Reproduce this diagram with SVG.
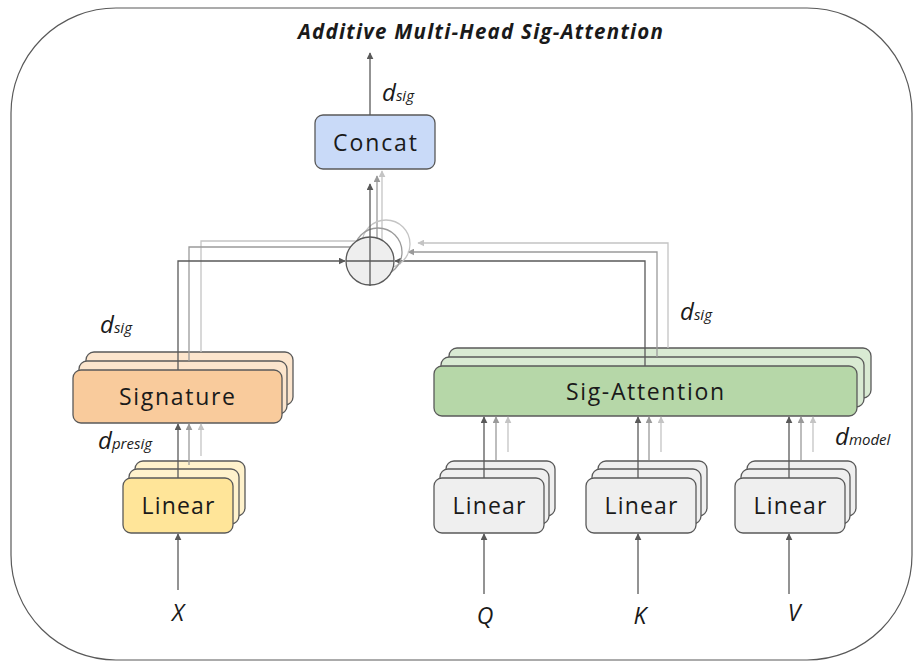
<svg xmlns="http://www.w3.org/2000/svg" width="914" height="662" viewBox="0 0 914 662">
<defs>
<style>
.t{font-family:"Open Sans",Lato,"Liberation Sans",sans-serif;fill:#1a1a1a}
.box{stroke:#595959;stroke-width:1.3}
.lab{font-size:23px;text-anchor:middle}
.it{font-family:"Open Sans",Lato,"Liberation Sans",sans-serif;font-style:italic;fill:#1a1a1a}
.dk{stroke:#595959;stroke-width:1.3;fill:none}
.md{stroke:#9a9a9a;stroke-width:1.3;fill:none}
.lt{stroke:#c4c4c4;stroke-width:1.3;fill:none}
</style>
<marker id="ad" viewBox="0 0 10 10" refX="9" refY="5" markerWidth="7" markerHeight="7" orient="auto" markerUnits="userSpaceOnUse"><path d="M0,0L10,5L0,10z" fill="#595959"/></marker>
<marker id="am" viewBox="0 0 10 10" refX="9" refY="5" markerWidth="7" markerHeight="7" orient="auto" markerUnits="userSpaceOnUse"><path d="M0,0L10,5L0,10z" fill="#9a9a9a"/></marker>
<marker id="al" viewBox="0 0 10 10" refX="9" refY="5" markerWidth="7" markerHeight="7" orient="auto" markerUnits="userSpaceOnUse"><path d="M0,0L10,5L0,10z" fill="#c4c4c4"/></marker>
</defs>
<rect x="0" y="0" width="914" height="662" fill="#ffffff"/>
<rect id="frame" x="11" y="8" width="901" height="652" rx="105" ry="105" fill="none" stroke="#595959" stroke-width="1.2"/>
<text class="t" x="480.5" y="39" font-size="20.5" font-weight="bold" font-style="italic" text-anchor="middle" textLength="365" lengthAdjust="spacing">Additive Multi-Head Sig-Attention</text>

<g id="concat">
  <rect class="box" x="315" y="115" width="120" height="54" rx="8" fill="#c9daf8"/>
  <text class="t lab" x="375" y="150.5" textLength="84" lengthAdjust="spacing">Concat</text>
</g>

<g id="signature">
  <rect class="box" x="86" y="352" width="207" height="53" rx="8" fill="#fce5cd"/>
  <rect class="box" x="79" y="361" width="208" height="53" rx="8" fill="#fce5cd"/>
  <rect class="box" x="73" y="370" width="209" height="53" rx="8" fill="#f9cb9c"/>
  <text class="t lab" x="177" y="405" textLength="116" lengthAdjust="spacing">Signature</text>
</g>

<g id="sigattention">
  <rect class="box" x="449" y="348" width="422" height="50" rx="8" fill="#d9ead3"/>
  <rect class="box" x="441" y="357" width="423" height="50" rx="8" fill="#d9ead3"/>
  <rect class="box" x="434" y="366" width="423" height="50" rx="8" fill="#b6d7a8"/>
  <text class="t lab" x="645" y="400" textLength="158" lengthAdjust="spacing">Sig-Attention</text>
</g>

<g id="linear-x">
  <rect class="box" x="135" y="461" width="110" height="55" rx="8" fill="#fff2cc"/>
  <rect class="box" x="129" y="469" width="110" height="55" rx="8" fill="#fff2cc"/>
  <rect class="box" x="123" y="478" width="110" height="55" rx="8" fill="#ffe599"/>
  <text class="t lab" x="178" y="514" textLength="73" lengthAdjust="spacing">Linear</text>
</g>

<g id="linear-q">
  <rect class="box" x="446" y="461" width="109" height="55" rx="8" fill="#efefef"/>
  <rect class="box" x="440" y="469" width="109" height="55" rx="8" fill="#efefef"/>
  <rect class="box" x="434" y="478" width="110" height="55" rx="8" fill="#efefef"/>
  <text class="t lab" x="489" y="514" textLength="73" lengthAdjust="spacing">Linear</text>
</g>

<g id="linear-k">
  <rect class="box" x="598" y="461" width="109" height="55" rx="8" fill="#efefef"/>
  <rect class="box" x="592" y="469" width="109" height="55" rx="8" fill="#efefef"/>
  <rect class="box" x="586" y="478" width="110" height="55" rx="8" fill="#efefef"/>
  <text class="t lab" x="641" y="514" textLength="73" lengthAdjust="spacing">Linear</text>
</g>

<g id="linear-v">
  <rect class="box" x="747" y="461" width="109" height="55" rx="8" fill="#efefef"/>
  <rect class="box" x="741" y="469" width="109" height="55" rx="8" fill="#efefef"/>
  <rect class="box" x="735" y="478" width="110" height="55" rx="8" fill="#efefef"/>
  <text class="t lab" x="790" y="514" textLength="73" lengthAdjust="spacing">Linear</text>
</g>

<g id="connectors">
  <line class="dk" x1="370" y1="115" x2="370" y2="53" marker-end="url(#ad)"/>
  <line class="lt" x1="382" y1="246" x2="382" y2="171" marker-end="url(#al)"/>
  <line class="md" x1="377" y1="254" x2="377" y2="176" marker-end="url(#am)"/>
  <polyline class="lt" points="201,352 201,241 360,241"/>
  <polyline class="md" points="189,361 189,247 354,247"/>
  <polyline class="lt" points="668,348 668,243 418,243" marker-end="url(#al)"/>
  <polyline class="md" points="657,357 657,252 408,252" marker-end="url(#am)"/>
  <polyline class="dk" points="178,370 178,261 345,261" marker-end="url(#ad)"/>
  <polyline class="dk" points="645,366 645,261 395,261" marker-end="url(#ad)"/>
  <line class="lt" x1="201" y1="456" x2="201" y2="424" marker-end="url(#al)"/>
  <line class="md" x1="189" y1="465" x2="189" y2="424" marker-end="url(#am)"/>
  <line class="dk" x1="178" y1="478" x2="178" y2="424" marker-end="url(#ad)"/>
  <line class="lt" x1="508" y1="452" x2="508" y2="417" marker-end="url(#al)"/>
  <line class="md" x1="496" y1="460" x2="496" y2="417" marker-end="url(#am)"/>
  <line class="dk" x1="484" y1="478" x2="484" y2="417" marker-end="url(#ad)"/>
  <line class="lt" x1="661" y1="452" x2="661" y2="417" marker-end="url(#al)"/>
  <line class="md" x1="649" y1="460" x2="649" y2="417" marker-end="url(#am)"/>
  <line class="dk" x1="638" y1="478" x2="638" y2="417" marker-end="url(#ad)"/>
  <line class="lt" x1="813" y1="452" x2="813" y2="417" marker-end="url(#al)"/>
  <line class="md" x1="801" y1="460" x2="801" y2="417" marker-end="url(#am)"/>
  <line class="dk" x1="789" y1="478" x2="789" y2="417" marker-end="url(#ad)"/>
  <line class="dk" x1="178" y1="590" x2="178" y2="534" marker-end="url(#ad)"/>
  <line class="dk" x1="484" y1="594" x2="484" y2="534" marker-end="url(#ad)"/>
  <line class="dk" x1="638" y1="594" x2="638" y2="534" marker-end="url(#ad)"/>
  <line class="dk" x1="789" y1="594" x2="789" y2="534" marker-end="url(#ad)"/>
</g>

<g id="sum">
  <circle cx="386" cy="244" r="24" fill="none" stroke="#c4c4c4" stroke-width="1.3"/>
  <circle cx="378" cy="252" r="24" fill="none" stroke="#9a9a9a" stroke-width="1.3"/>
  <circle cx="370" cy="261" r="24" fill="#eeeeee" stroke="#595959" stroke-width="1.3"/>
  <line class="dk" x1="346" y1="261" x2="394" y2="261"/>
  <line class="dk" x1="370" y1="286" x2="370" y2="184" marker-end="url(#ad)"/>
</g>

<g id="labels">
  <text class="it" x="382" y="101" font-size="24">d<tspan font-size="15">sig</tspan></text>
  <text class="it" x="100" y="333" font-size="24">d<tspan font-size="15">sig</tspan></text>
  <text class="it" x="680" y="320" font-size="24">d<tspan font-size="15">sig</tspan></text>
  <text class="it" x="98" y="449" font-size="24">d<tspan font-size="15">presig</tspan></text>
  <text class="it" x="835" y="445" font-size="24">d<tspan font-size="15">model</tspan></text>
  <text class="it" x="178" y="621" font-size="23" text-anchor="middle">X</text>
  <text class="it" x="485" y="624" font-size="23" text-anchor="middle">Q</text>
  <text class="it" x="640" y="624" font-size="23" text-anchor="middle">K</text>
  <text class="it" x="794" y="621" font-size="23" text-anchor="middle">V</text>
</g>
</svg>
